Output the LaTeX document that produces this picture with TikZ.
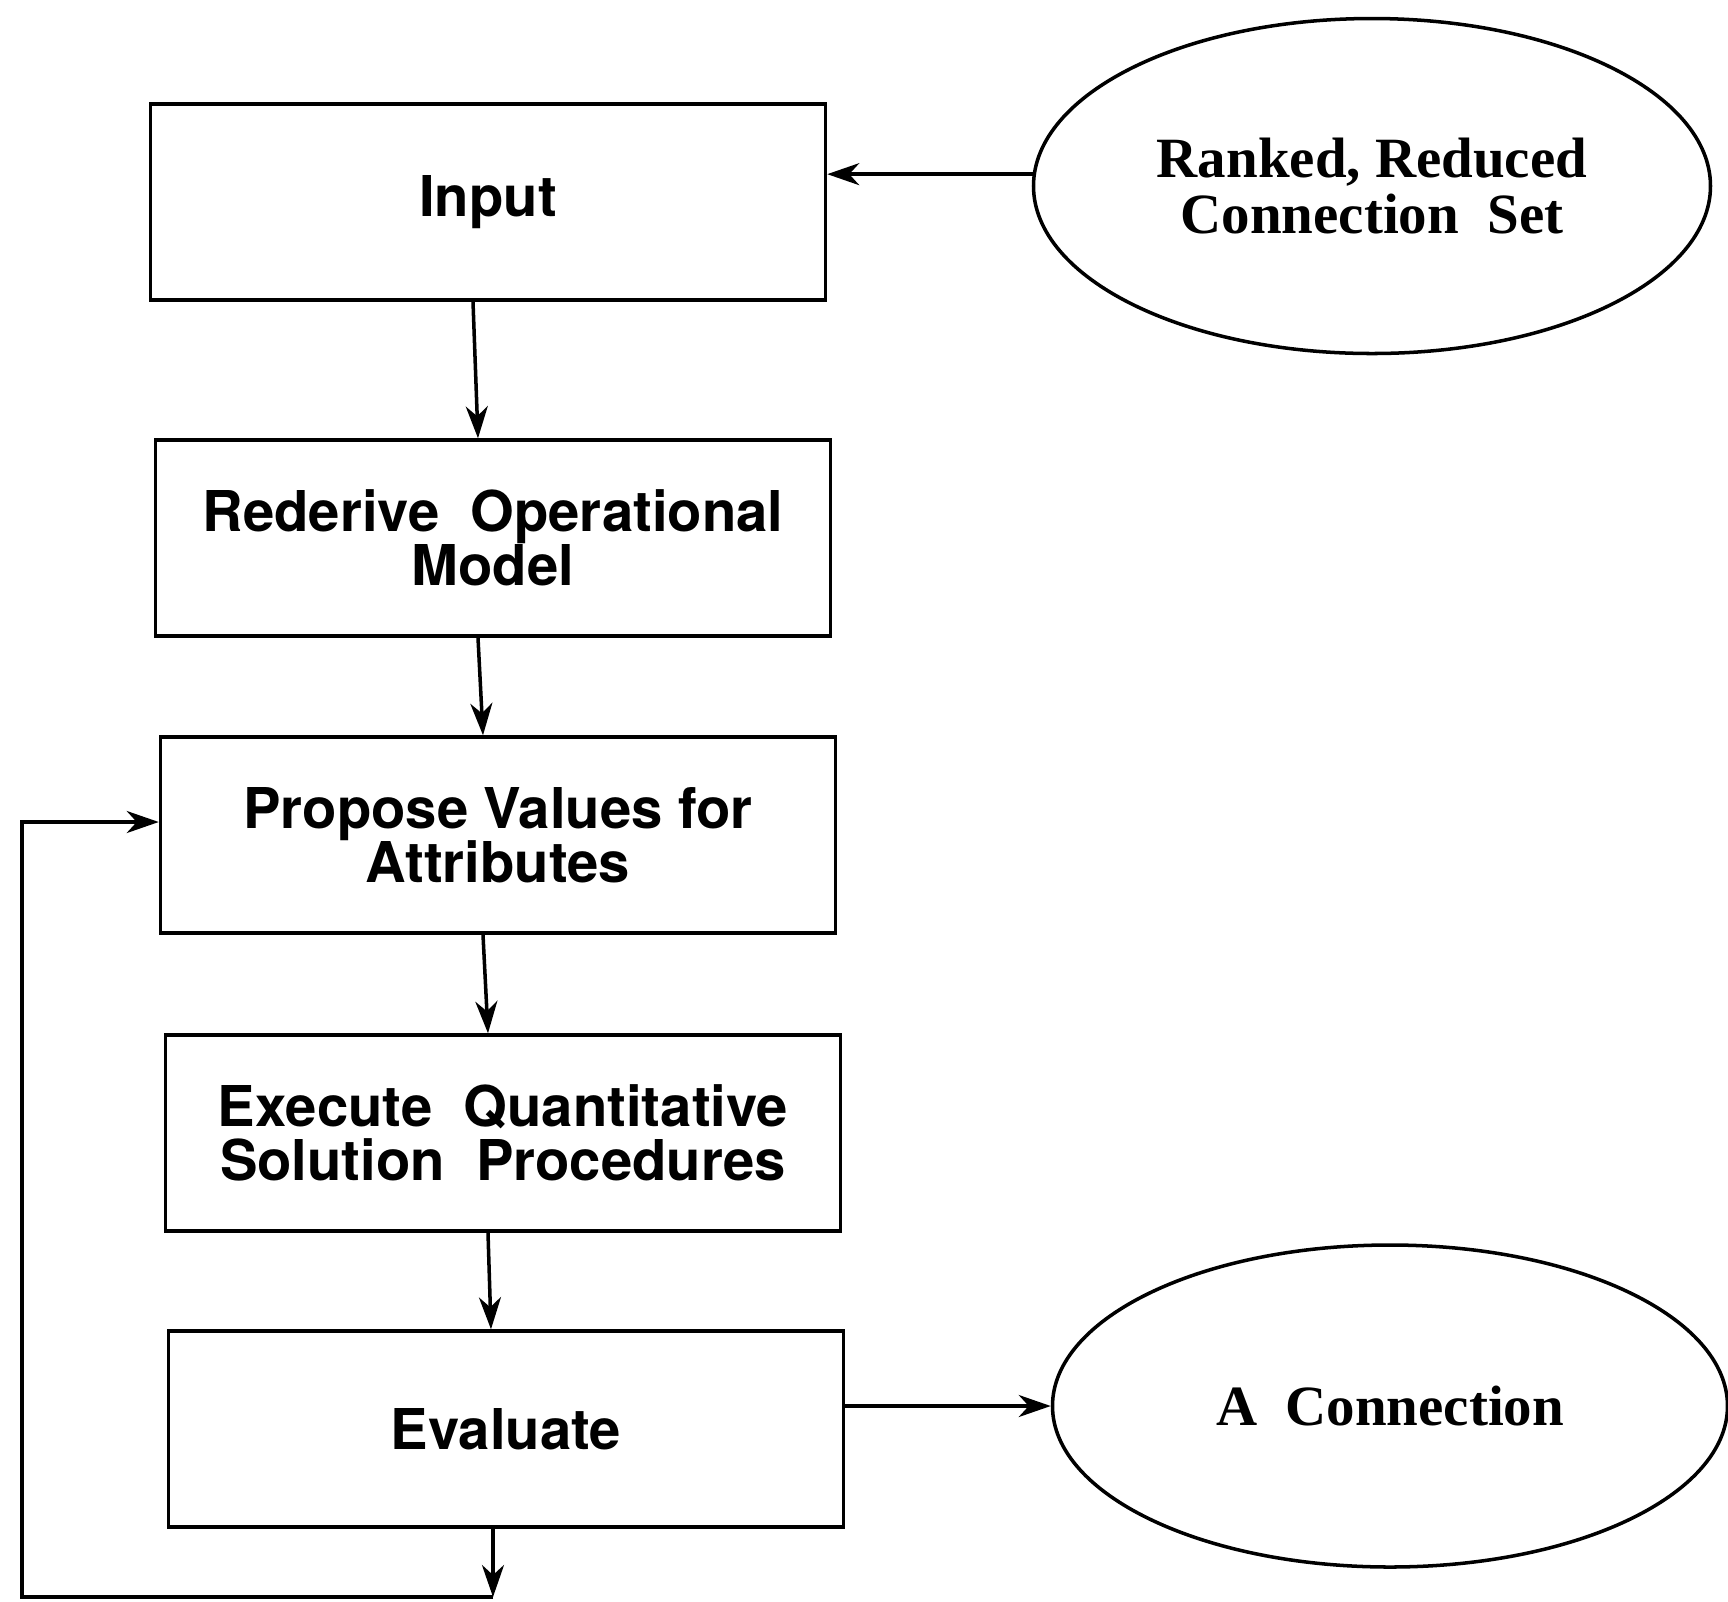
\documentclass[tikz,border=0pt]{standalone}
\usepackage{fontspec}
\newfontfamily\helvfont{TeX Gyre Heros}
\newfontfamily\timesfont{Liberation Serif}
\usetikzlibrary{shapes.geometric,arrows.meta}

\tikzset{
    stage/.style={draw, line width=1pt, minimum width=6.75cm, minimum height=1.96cm,
        align=center, font=\helvfont\bfseries\fontsize{16}{15.5}\selectfont},
    result/.style={draw, ellipse, line width=1pt, inner sep=0pt, align=center,
        font=\timesfont\bfseries\fontsize{16.2}{15.8}\selectfont},
    flow/.style={line width=1pt, -{Stealth[length=3.2mm, width=2.2mm, inset=1mm]}}
}

\begin{document}
\begin{tikzpicture}
    \useasboundingbox (0,0) rectangle (17.28,-16.01);

    % Main chain of stages
    \node[stage] (input)    at (4.88,-2.02)  {Input};
    \node[stage] (rederive) at (4.93,-5.38)  {Rederive\ \ Operational\\Model};
    \node[stage] (propose)  at (4.98,-8.35)  {Propose Values for\\Attributes};
    \node[stage] (execute)  at (5.03,-11.33) {Execute\ \ Quantitative\\Solution\ \ Procedures};
    \node[stage] (evaluate) at (5.06,-14.29) {Evaluate};

    % Source and result
    \node[result, minimum width=6.77cm, minimum height=3.35cm] (ranked) at (13.72,-1.86)
        {Ranked, Reduced\\Connection\ \ Set};
    \node[result, minimum width=6.75cm, minimum height=3.22cm] (conn) at (13.9,-14.06)
        {A\ \ Connection};

    \draw[flow] (ranked.178) -- (input.east |- ranked.178);
    \foreach \a/\b in {input/rederive, rederive/propose, propose/execute, execute/evaluate}
        \draw[flow] ([xshift=-1.5mm]\a.south) -- ([xshift=-1.5mm]\b.north);
    \draw[flow] (evaluate.east |- conn.west) -- (conn.west);

    % Feedback loop back to proposing values
    \coordinate (drop) at (4.93,-15.97);
    \coordinate (corner) at (0.22,-15.97);
    \draw[flow] (evaluate.south -| drop) -- (drop);
    \draw[flow] (drop) -- (corner) |- ([yshift=1.3mm]propose.west);
\end{tikzpicture}
\end{document}
